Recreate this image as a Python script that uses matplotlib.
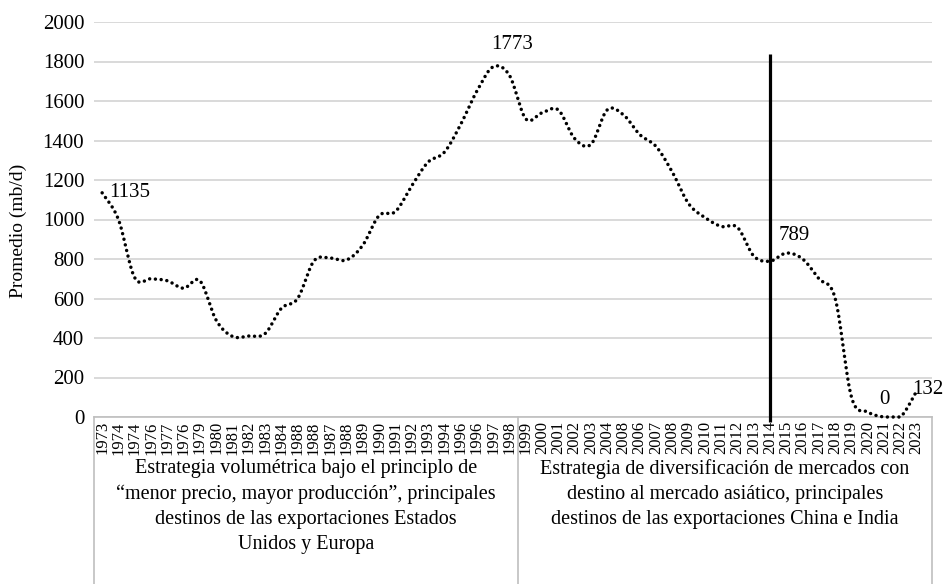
import matplotlib
matplotlib.use("Agg")
import matplotlib.pyplot as plt
import numpy as np
from matplotlib.lines import Line2D

plt.rcParams["font.family"] = ["Liberation Serif", "DejaVu Serif"]

# year labels as printed on the original axis (typos included)
years = ["1973", "1974", "1974", "1976", "1977", "1976", "1979", "1980", "1981",
         "1982", "1983", "1984", "1988", "1988", "1987", "1988", "1989", "1990",
         "1991", "1992", "1993", "1994", "1996", "1996", "1997", "1998", "1999",
         "2000", "2001", "2002", "2003", "2004", "2008", "2006", "2007", "2008",
         "2009", "2010", "2011", "2012", "2013", "2014", "2015", "2016", "2017",
         "2018", "2019", "2020", "2021", "2022", "2023"]

# average exports (mb/d)
promedio = [1135, 1000, 705, 700, 690, 652, 690, 490, 408, 410, 422, 550,
            600, 790, 805, 795, 870, 1020, 1040, 1170, 1290, 1340, 1480,
            1650, 1773, 1730, 1510, 1540, 1555, 1410, 1380, 1555, 1530,
            1430, 1370, 1240, 1080, 1010, 965, 960, 815, 789, 830, 800,
            700, 600, 100, 25, 0, 0, 132]

grupos = ["Estrategia volumétrica bajo el principlo de\n"
          "\u201cmenor precio, mayor producción\u201d, principales\n"
          "destinos de las exportaciones Estados\n"
          "Unidos y Europa",
          "Estrategia de diversificación de mercados con\n"
          "destino al mercado asiático, principales\n"
          "destinos de las exportaciones China e India"]
grupo_fin = 25     # last index of the first strategy (1998)
corte = 41         # vertical marker at 2014

etiquetas = {0: "1135", 24: "1773", 41: "789", 48: "0", 50: "132"}


def smooth(x, y, n=24):
    # excel style smoothed line (catmull-rom)
    P = np.column_stack([x, y]).astype(float)
    P = np.vstack([P[0], P, P[-1]])
    out = []
    t = np.linspace(0, 1, n, endpoint=False)[:, None]
    for i in range(1, len(P) - 2):
        p0, p1, p2, p3 = P[i - 1], P[i], P[i + 1], P[i + 2]
        seg = 0.5 * (2 * p1 + (-p0 + p2) * t + (2 * p0 - 5 * p1 + 4 * p2 - p3) * t ** 2
                     + (-p0 + 3 * p1 - 3 * p2 + p3) * t ** 3)
        out.append(seg)
    out.append(P[-2][None])
    return np.vstack(out)


W, H = 944, 584
fig = plt.figure(figsize=(W / 100, H / 100), dpi=100)
x0, x1, ytop, ybot = 94, 932, 22, 417
ax = fig.add_axes([x0 / W, (H - ybot) / H, (x1 - x0) / W, (ybot - ytop) / H])

x = np.arange(len(promedio))
curve = smooth(x, promedio)
curve[:, 1] = np.maximum(curve[:, 1], 0)
ax.plot(curve[:, 0], curve[:, 1], color="black", lw=2.5,
        dashes=(0.01, 1.65), dash_capstyle="round", zorder=3, clip_on=False)

ax.vlines(corte, -25, 1840, color="black", lw=2.3, clip_on=False, zorder=4)

ax.set_xlim(-0.5, 50.94)
ax.set_ylim(0, 2000)
ax.set_yticks(range(0, 2001, 200))
ax.yaxis.grid(True, color="#d9d9d9", lw=1.4)
ax.set_axisbelow(True)
for s in ["top", "right", "left"]:
    ax.spines[s].set_visible(False)
ax.spines["bottom"].set_color("#bfbfbf")
ax.spines["bottom"].set_linewidth(1.2)
ax.tick_params(axis="y", length=0, pad=7, labelsize=15)
ax.set_xticks(x)
ax.set_xticklabels(years, rotation=90, fontsize=12)
ax.tick_params(axis="x", length=0, pad=3)
ax.set_ylabel("Promedio (mb/d)", fontsize=14)
ax.yaxis.set_label_coords(-0.08, 0.47)

offs = {0: (5, 0, "left", "center"), 24: (14, 9, "center", "bottom"),
        41: (6, 12, "left", "bottom"), 48: (0, 6, "center", "bottom"),
        50: (-3, 1, "left", "center")}
for i, txt in etiquetas.items():
    dx, dy, ha, va = offs[i]
    ax.annotate(txt, (i, promedio[i]), xytext=(dx, dy), textcoords="offset points",
                ha=ha, va=va, fontsize=15)

# category boxes under the axis
sep = (x0 + (grupo_fin + 0.5 + 0.5) * (x1 - x0) / 51.44)
for xp in [x0, sep, x1]:
    fig.add_artist(Line2D([xp / W, xp / W], [0, (H - ybot) / H],
                          color="#bfbfbf", lw=1.2))
fig.text((x0 + sep) / 2 / W, (H - 459) / H, grupos[0], ha="center", va="top",
         fontsize=14.5, linespacing=1.43)
fig.text((sep + x1) / 2 / W, (H - 459) / H, grupos[1], ha="center", va="top",
         fontsize=14.5, linespacing=1.43)

fig.savefig("out.png", dpi=100)
